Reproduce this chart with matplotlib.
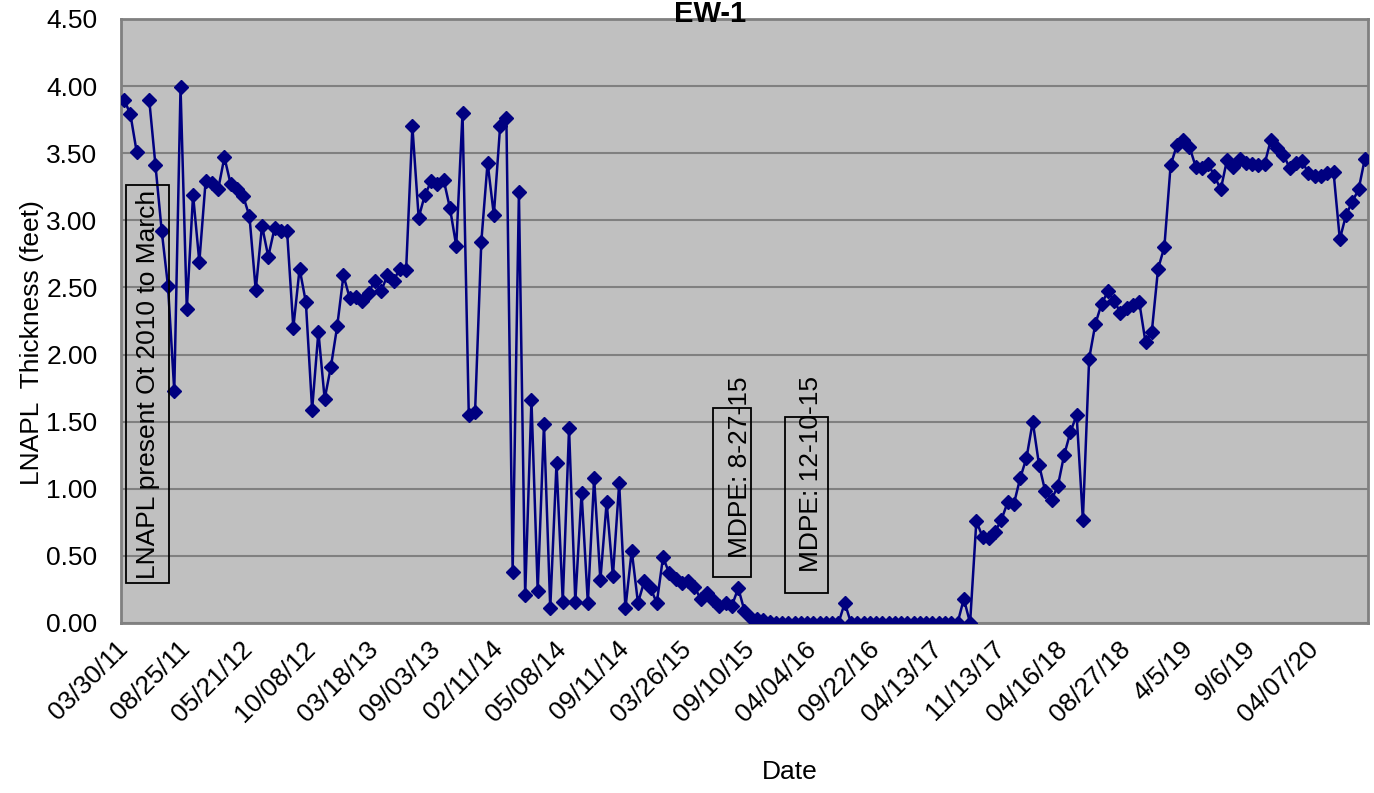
import numpy as np
import matplotlib
matplotlib.use("Agg")
import matplotlib.pyplot as plt
from matplotlib.patches import Rectangle
from matplotlib.transforms import ScaledTranslation

plt.rcParams['font.family'] = ['Liberation Sans', 'DejaVu Sans']

# ---- data (one value per sampling event, in order) ----
thickness = [
    3.90, 3.79, 3.51, np.nan, 3.90, 3.41, 2.92, 2.51, 1.73, 3.99,
    2.34, 3.19, 2.69, 3.29, 3.28, 3.23, 3.47, 3.27, 3.23, 3.18,
    3.03, 2.48, 2.96, 2.73, 2.94, 2.92, 2.92, 2.20, 2.64, 2.39,
    1.59, 2.17, 1.67, 1.91, 2.21, 2.59, 2.42, 2.43, 2.40, 2.46,
    2.55, 2.47, 2.59, 2.55, 2.64, 2.63, 3.70, 3.02, 3.19, 3.29,
    3.27, 3.30, 3.09, 2.81, 3.80, 1.55, 1.57, 2.84, 3.43, 3.04,
    3.70, 3.76, 0.38, 3.21, 0.21, 1.66, 0.24, 1.48, 0.11, 1.19,
    0.16, 1.45, 0.16, 0.97, 0.15, 1.08, 0.32, 0.90, 0.35, 1.04,
    0.11, 0.54, 0.15, 0.31, 0.26, 0.15, 0.49, 0.37, 0.33, 0.30,
    0.31, 0.27, 0.18, 0.22, 0.17, 0.13, 0.15, 0.13, 0.26, 0.09,
    0.04, 0.03, 0.02, 0.01, 0.00, 0.00, 0.00, 0.00, 0.00, 0.00,
    0.00, 0.00, 0.00, 0.00, 0.00, 0.15, 0.00, 0.00, 0.00, 0.00,
    0.00, 0.00, 0.00, 0.00, 0.00, 0.00, 0.00, 0.00, 0.00, 0.00,
    0.00, 0.00, 0.00, 0.00, 0.18, 0.00, 0.76, 0.64, 0.63, 0.68,
    0.77, 0.90, 0.89, 1.08, 1.23, 1.50, 1.18, 0.98, 0.92, 1.02,
    1.25, 1.42, 1.55, 0.77, 1.97, 2.23, 2.38, 2.47, 2.40, 2.31,
    2.35, 2.37, 2.39, 2.09, 2.17, 2.64, 2.80, 3.41, 3.56, 3.60,
    3.55, 3.40, 3.39, 3.42, 3.33, 3.23, 3.45, 3.40, 3.46, 3.43,
    3.42, 3.41, 3.42, 3.60, 3.54, 3.49, 3.39, 3.43, 3.44, 3.35,
    3.33, 3.33, 3.35, 3.36, 2.86, 3.04, 3.14, 3.23, 3.46,
]

tick_labels = ['03/30/11', '08/25/11', '05/21/12', '10/08/12', '03/18/13',
               '09/03/13', '02/11/14', '05/08/14', '09/11/14', '03/26/15',
               '09/10/15', '04/04/16', '09/22/16', '04/13/17', '11/13/17',
               '04/16/18', '08/27/18', '4/5/19', '9/6/19', '04/07/20']
label_every = 10

y_ticks = [0.0, 0.5, 1.0, 1.5, 2.0, 2.5, 3.0, 3.5, 4.0, 4.5]

title = 'EW-1'
y_title = 'LNAPL  Thickness (feet)'
x_title = 'Date'
notes = ['LNAPL present Ot 2010 to March', 'MDPE: 8-27-15', 'MDPE: 12-10-15']

# ---- figure ----
W, H = 1374, 793
fig = plt.figure(figsize=(W / 100, H / 100), dpi=100)
ax = fig.add_axes([121 / W, 1 - 623 / H, (1368 - 121) / W, (623 - 19) / H])
ax.set_facecolor('#C0C0C0')

x = np.arange(len(thickness))
ax.plot(x, thickness, color='#000080', lw=1.8, marker='D', ms=7,
        markerfacecolor='#000080', markeredgecolor='#000080', zorder=3)

ax.set_xlim(-0.5, len(thickness) - 0.5)
ax.set_ylim(0, 4.5)
ax.set_yticks(y_ticks)
ax.set_yticklabels([f'{v:.2f}' for v in y_ticks], fontsize=19)
ax.yaxis.grid(True, color='#808080', lw=1.5)
ax.set_axisbelow(True)
ax.tick_params(axis='y', length=0, pad=17)

ax.set_xticks(x[::label_every][:len(tick_labels)])
ax.set_xticklabels(tick_labels, fontsize=19, rotation=45, ha='right',
                   va='top', rotation_mode='anchor')
ax.tick_params(axis='x', length=0, pad=10)
shift = ScaledTranslation(-9 / 100, 0, fig.dpi_scale_trans)
for lab in ax.get_xticklabels():
    lab.set_transform(lab.get_transform() + shift)

for s in ax.spines.values():
    s.set_color('#808080')
    s.set_linewidth(2)

fig.text(710 / W, 1 - 22 / H, title, ha='center', va='baseline',
         fontsize=21, fontweight='bold')
fig.text(32 / W, 1 - 343 / H, y_title, rotation=90, ha='center', va='center',
         fontsize=19)
fig.text(790 / W, 1 - 772 / H, x_title, ha='center', va='center', fontsize=19)

# annotation boxes (pixel extents) and their text centres
boxes = [(126, 185, 169, 583), (713, 408, 751, 577), (785, 417, 828, 593)]
centres = [(148, 384), (740, 467), (811, 474)]
for (x0, y0, x1, y1), (cx, cy), txt in zip(boxes, centres, notes):
    fig.add_artist(Rectangle((x0 / W, 1 - y1 / H), (x1 - x0) / W, (y1 - y0) / H,
                             transform=fig.transFigure, fill=False,
                             edgecolor='black', lw=1.3, zorder=5))
    fig.text(cx / W, 1 - cy / H, txt, rotation=90, ha='center', va='center',
             fontsize=19, zorder=6)

fig.savefig('out.png', dpi=100)
